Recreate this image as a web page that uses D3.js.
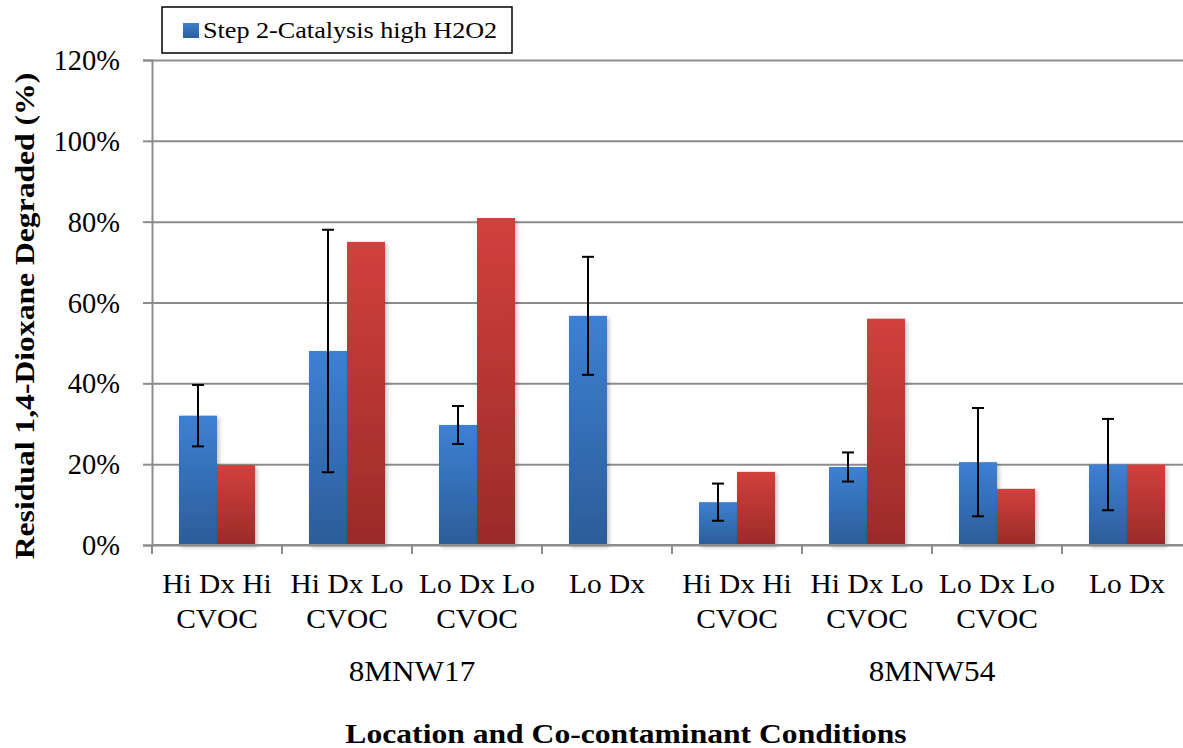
<!DOCTYPE html>
<html>
<head>
<meta charset="utf-8">
<script src="https://cdnjs.cloudflare.com/ajax/libs/d3/7.8.5/d3.min.js"></script>
<style>
  html, body { margin: 0; padding: 0; background: #fff; }
  svg { display: block; }
  text { font-family: "Liberation Serif", "Times New Roman", serif; fill: #000; }
</style>
</head>
<body>
<svg id="chart" width="1183" height="748"></svg>
<script>
// ---- data ----
const catLine1 = ["Hi Dx Hi", "Hi Dx Lo", "Lo Dx Lo", "Lo Dx", "Hi Dx Hi", "Hi Dx Lo", "Lo Dx Lo", "Lo Dx"];
const catLine2 = ["CVOC", "CVOC", "CVOC", "", "CVOC", "CVOC", "CVOC", ""];
const groups = ["8MNW17", "8MNW54"];
const groupSize = [4, 4];
const seriesNames = ["Step 2-Catalysis high H2O2", "Step 2-Catalysis low H2O2"];
const blueValues = [32.0, 48.0, 29.7, 56.7, 10.6, 19.3, 20.5, 19.9];
const blueErrors = [7.6, 30.0, 4.7, 14.6, 4.6, 3.6, 13.4, 11.3];
const redValues = [19.8, 75.0, 80.9, null, 18.1, 56.0, 13.9, 19.9];
const yTicks = [0, 20, 40, 60, 80, 100, 120];
const yTitle = "Residual 1,4-Dioxane Degraded (%)";
const xTitle = "Location and Co-contaminant Conditions";

(function () {
// ---- layout ----
const svg = d3.select("#chart");
const pLeft = 152, pRight = 1192, pTop = 60, pBottom = 545;

const x = d3.scaleBand().domain(d3.range(catLine1.length)).range([pLeft, pRight]).padding(0);
const xs = d3.scaleBand().domain([0, 1]).range([27, 103]).padding(0);
const y = d3.scaleLinear().domain([0, 120]).range([pBottom, pTop]);

const defs = svg.append("defs");
function grad(id, c1, c2) {
  const g = defs.append("linearGradient").attr("id", id).attr("x1", 0).attr("y1", 0).attr("x2", 0).attr("y2", 1);
  g.append("stop").attr("offset", "0%").attr("stop-color", c1);
  g.append("stop").attr("offset", "100%").attr("stop-color", c2);
}
grad("gBlue", "#3d80d3", "#2c5d99");
grad("gRed", "#d2403c", "#9a2b29");
const f = defs.append("filter").attr("id", "shadow").attr("x", "-20%").attr("y", "-5%").attr("width", "150%").attr("height", "115%");
f.append("feDropShadow").attr("dx", 2).attr("dy", 2).attr("stdDeviation", 2).attr("flood-color", "#000").attr("flood-opacity", 0.25);

function stretchedText(parent, tx, ty, str, size, sx, anchor, weight, rotate) {
  const g = parent.append("g").attr("transform",
    `translate(${tx},${ty})` + (rotate ? ` rotate(${rotate})` : "") + ` scale(${sx},1)`);
  return g.append("text").attr("x", 0).attr("y", 0)
    .attr("text-anchor", anchor).style("font-size", size + "px")
    .style("font-weight", weight || "normal").text(str);
}

// gridlines
const grid = svg.append("g").attr("transform", `translate(${pLeft},0)`)
  .call(d3.axisLeft(y).tickValues(yTicks).tickSize(-(pRight - pLeft)).tickFormat(""));
grid.select(".domain").remove();
grid.selectAll("line").attr("stroke", "#8c8c8c").attr("stroke-width", 2);

// y axis
const yAxis = svg.append("g").attr("transform", `translate(${pLeft},0)`)
  .call(d3.axisLeft(y).tickValues(yTicks).tickSize(9).tickFormat(""));
yAxis.select(".domain").attr("stroke", "#8c8c8c").attr("stroke-width", 2);
yAxis.selectAll("line").attr("stroke", "#8c8c8c").attr("stroke-width", 2);
yTicks.forEach(t => stretchedText(svg, 120, y(t) + 10, t + "%", 28.5, 1.0, "end"));

// bars
const barG = svg.append("g");
const valueSets = [blueValues, redValues];
const fills = ["url(#gBlue)", "url(#gRed)"];
valueSets.forEach((vals, si) => {
  barG.selectAll(".bar" + si).data(vals.map((v, i) => ({ v, i })).filter(d => d.v != null))
    .join("rect").attr("class", "bar" + si)
    .attr("x", d => x(d.i) + xs(si))
    .attr("y", d => y(d.v))
    .attr("width", xs.bandwidth())
    .attr("height", d => y(0) - y(d.v))
    .attr("fill", fills[si])
    .attr("filter", "url(#shadow)");
});

// x axis
svg.append("line").attr("x1", pLeft).attr("x2", pRight).attr("y1", pBottom).attr("y2", pBottom)
  .attr("stroke", "#8c8c8c").attr("stroke-width", 2);
svg.append("g").selectAll("line").data(d3.range(catLine1.length + 1)).join("line")
  .attr("x1", i => i < catLine1.length ? x(i) : pRight).attr("x2", i => i < catLine1.length ? x(i) : pRight)
  .attr("y1", pBottom).attr("y2", pBottom + 9)
  .attr("stroke", "#8c8c8c").attr("stroke-width", 2);

// error bars (blue series)
const errG = svg.append("g").attr("stroke", "#000").attr("stroke-width", 2);
blueValues.forEach((v, i) => {
  const cx = x(i) + xs(0) + xs.bandwidth() / 2;
  const hi = y(v + blueErrors[i]), lo = y(v - blueErrors[i]);
  errG.append("line").attr("x1", cx).attr("x2", cx).attr("y1", hi).attr("y2", lo);
  errG.append("line").attr("x1", cx - 6).attr("x2", cx + 6).attr("y1", hi).attr("y2", hi);
  errG.append("line").attr("x1", cx - 6).attr("x2", cx + 6).attr("y1", lo).attr("y2", lo);
});

// category labels
catLine1.forEach((l, i) => {
  const cx = x(i) + x.bandwidth() / 2;
  stretchedText(svg, cx, 593, l, 27.5, 1.07, "middle");
  if (catLine2[i]) stretchedText(svg, cx, 628, catLine2[i], 27.5, 1.07, "middle");
});
// group labels
let start = 0;
groups.forEach((g, gi) => {
  const x0 = x(start), x1 = x(start + groupSize[gi] - 1) + x.bandwidth();
  stretchedText(svg, (x0 + x1) / 2, 681, g, 30, 1.04, "middle");
  start += groupSize[gi];
});

// axis titles
stretchedText(svg, 626, 743, xTitle, 27.5, 1.15, "middle", "bold");
stretchedText(svg, 34, 316, yTitle, 27.5, 1.15, "middle", "bold", -90);

// legend
svg.append("rect").attr("x", 162).attr("y", 7).attr("width", 350).attr("height", 46)
  .attr("fill", "#fff").attr("stroke", "#000").attr("stroke-width", 1.5);
svg.append("rect").attr("x", 183).attr("y", 23).attr("width", 16).attr("height", 15).attr("fill", "url(#gBlue)");
stretchedText(svg, 203, 38, seriesNames[0], 24, 1.09, "start");
})();
</script>
</body>
</html>
